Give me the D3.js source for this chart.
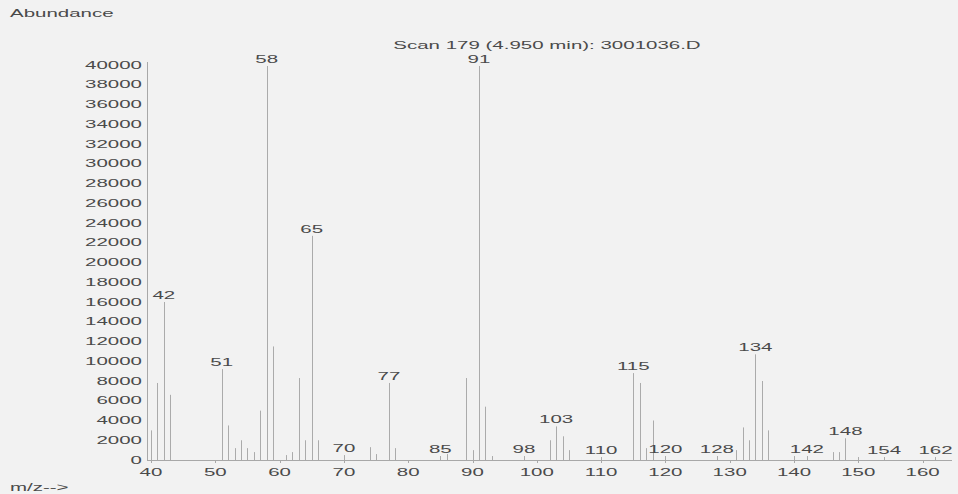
<!DOCTYPE html>
<html>
<head>
<meta charset="utf-8">
<script src="https://cdn.jsdelivr.net/npm/d3@7"></script>
<style>
  html, body { margin: 0; padding: 0; background: #f2f2f2; }
  svg { display: block; }
</style>
</head>
<body>
<script>
// m/z values and abundances
const mz = [40, 41, 42, 43, 51, 52, 53, 54, 55, 56, 57, 58, 59, 61, 62, 63, 64, 65, 66,
  70, 74, 75, 77, 78, 85, 86, 89, 90, 91, 92, 93, 98, 102, 103, 104, 105, 110,
  115, 116, 117, 118, 120, 128, 131, 132, 133, 134, 135, 136, 140, 142, 146, 147,
  148, 150, 154, 162]
const abundance = [3000, 7800, 16000, 6600, 9200, 3500, 1200, 2000, 1200, 800, 5000, 39900, 11500, 500, 800, 8300, 2000, 22700, 2000,
  500, 1300, 600, 7800, 1200, 400, 600, 8300, 1000, 39900, 5400, 400, 400, 2000, 3400, 2400, 1000, 300,
  8800, 7800, 1200, 4000, 400, 400, 1000, 3300, 2000, 10700, 8000, 3000, 400, 400, 800, 800,
  2200, 300, 300, 300]

// peaks that carry an m/z label
const labelled = [42, 51, 58, 65, 70, 77, 85, 91, 98, 103, 110, 115, 120, 128, 134, 142, 148, 154, 162]

const yTicks = d3.range(0, 40001, 2000)
const xTicks = d3.range(40, 161, 10)

const title = "Scan 179 (4.950 min): 3001036.D"

const width = 958
const height = 494
const stretch = 2.05

const peaks = mz.map((m, i) => ({ mz: m, value: abundance[i] }))

const x = d3.scaleLinear().domain([40, 160]).range([151, 922.6])
const y = d3.scaleLinear().domain([0, 40000]).range([460, 65])

const svg = d3.select("body")
  .append("svg")
  .attr("width", width)
  .attr("height", height)
  .style("font-family", "'Liberation Sans', Arial, sans-serif")
  .style("font-size", "10px")

svg.append("rect")
  .attr("width", width)
  .attr("height", height)
  .attr("fill", "#f2f2f2")

// stretched text, like the scanned printout
function label(g, tx, ty, str, anchor) {
  g.append("text")
    .attr("transform", `translate(${tx},${ty}) scale(${stretch},1)`)
    .attr("text-anchor", anchor || "start")
    .attr("fill", "#4a4a4a")
    .text(str)
}

label(svg, 10, 17, "Abundance")
label(svg, 547, 49, title, "middle")
label(svg, 10, 491, "m/z-->")

// axes
svg.append("line")
  .attr("x1", 147.5).attr("x2", 147.5)
  .attr("y1", 62).attr("y2", 460)
  .attr("stroke", "#a8a8a8")

svg.append("line")
  .attr("x1", 147).attr("x2", 952)
  .attr("y1", 460.5).attr("y2", 460.5)
  .attr("stroke", "#a8a8a8")

const yAxis = svg.append("g")
yTicks.forEach(t => label(yAxis, 142, y(t) + 3.5, String(t), "end"))

const xAxis = svg.append("g")
xTicks.forEach(t => {
  xAxis.append("line")
    .attr("x1", Math.round(x(t)) + 0.5).attr("x2", Math.round(x(t)) + 0.5)
    .attr("y1", 460).attr("y2", 463)
    .attr("stroke", "#a8a8a8")
  label(xAxis, x(t), 476, String(t), "middle")
})

// peaks
svg.append("g")
  .selectAll("line")
  .data(peaks)
  .enter()
  .append("line")
  .attr("x1", d => Math.round(x(d.mz)) + 0.5)
  .attr("x2", d => Math.round(x(d.mz)) + 0.5)
  .attr("y1", y(0))
  .attr("y2", d => y(d.value))
  .attr("stroke", "#ababab")
  .attr("stroke-width", 1)

const peakLabels = svg.append("g")
labelled.forEach(m => {
  const p = peaks.find(d => d.mz === m)
  const v = p ? p.value : 0
  label(peakLabels, x(m), y(v) - 3, String(m), "middle")
})
</script>
</body>
</html>
